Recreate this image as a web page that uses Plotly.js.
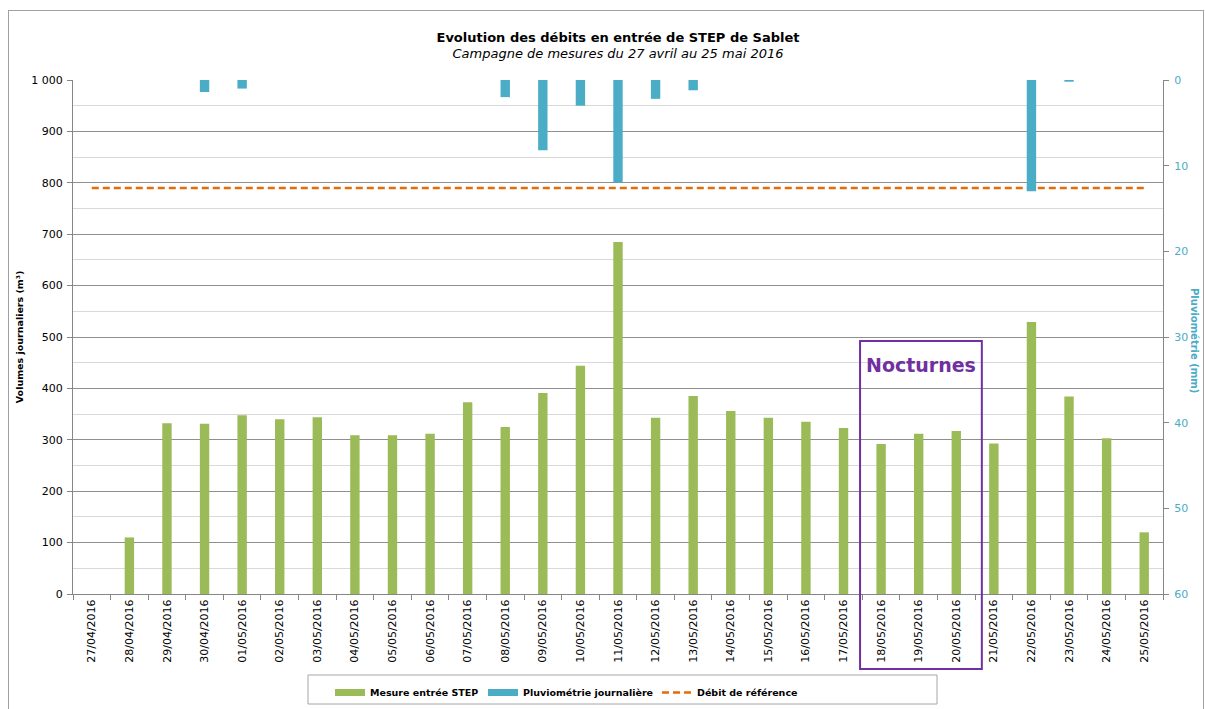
<!DOCTYPE html>
<html>
<head>
<meta charset="utf-8">
<script src="https://cdn.plot.ly/plotly-3.0.1.min.js"></script>
<style>
  html, body { margin:0; padding:0; background:#fff; }
  #chart { width:1205px; height:709px; position:absolute; left:0; top:0; }
  #frame { position:absolute; left:8px; top:10px; width:1194px; height:720px; border:1px solid #a0a0a0; pointer-events:none; }
</style>
</head>
<body>
<div id="chart"></div>
<div id="frame"></div>
<script>
const categories = ["27/04/2016","28/04/2016","29/04/2016","30/04/2016","01/05/2016","02/05/2016","03/05/2016",
  "04/05/2016","05/05/2016","06/05/2016","07/05/2016","08/05/2016","09/05/2016","10/05/2016","11/05/2016",
  "12/05/2016","13/05/2016","14/05/2016","15/05/2016","16/05/2016","17/05/2016","18/05/2016","19/05/2016",
  "20/05/2016","21/05/2016","22/05/2016","23/05/2016","24/05/2016","25/05/2016"];
const volumes = [null,110,332,331,348,340,344,309,309,312,373,325,391,444,685,343,385,356,343,335,323,292,312,317,293,529,384,303,120];
const rain = [0,0,0,1.4,1.0,0,0,0,0,0,0,2.0,8.2,3.0,12.0,2.2,1.2,0,0,0,0,0,0,0,0,13.0,0.2,0,0];
const refFlow = 790;
const nightDays = ["18/05/2016","19/05/2016","20/05/2016"];

const seriesNames = ["Mesure entrée STEP","Pluviométrie journalière","Débit de référence"];
const GREEN = "#9bbb59", BLUE = "#4bacc6", ORANGE = "#e46c0a", PURPLE = "#7030a0";
const FONT = "Verdana, 'DejaVu Sans', sans-serif";

const W = 1205, H = 709, L = 73, R = 1163, T = 80, B = 594;
const px2px = x => (x - L) / (R - L);   // pixel -> paper x
const py2py = y => (B - y) / (B - T);   // pixel -> paper y

const traces = [
  {type:"bar", x:categories, y:volumes, name:seriesNames[0], marker:{color:GREEN}, width:0.25, showlegend:false, yaxis:"y"},
  {type:"bar", x:categories, y:rain, name:seriesNames[1], marker:{color:BLUE}, width:0.25, showlegend:false, yaxis:"y2"},
  {type:"scatter", mode:"lines", x:categories, y:categories.map(() => refFlow), name:seriesNames[2],
   line:{color:ORANGE, width:2.5, dash:"7px,4px"}, showlegend:true, yaxis:"y", legend:"legend3"},
  // legend swatches (Excel-style wide rectangles)
  {type:"scatter", mode:"lines", x:[null], y:[null], name:seriesNames[0], line:{color:GREEN, width:7}, legend:"legend"},
  {type:"scatter", mode:"lines", x:[null], y:[null], name:seriesNames[1], line:{color:BLUE, width:7}, yaxis:"y2", legend:"legend2"},
];

const n0 = categories.indexOf(nightDays[0]);
const n1 = categories.indexOf(nightDays[nightDays.length-1]);
const bx0 = n0 - 0.56, bx1 = n1 + 0.68;

function legendAt(xpx) {
  return {orientation:"h", xref:"container", yref:"container", x:(xpx-5)/W, y:1-678/H, xanchor:"left", yanchor:"top",
          borderwidth:0, bgcolor:"rgba(0,0,0,0)",
          font:{family:FONT, size:9.5, color:"#000", weight:"bold"}, itemwidth:30};
}

const layout = {
  width:W, height:H,
  margin:{l:L, r:W-R, t:T, b:H-B},
  paper_bgcolor:"#ffffff", plot_bgcolor:"#ffffff",
  font:{family:FONT, size:10.5, color:"#000"},
  separators:", ",
  barmode:"overlay",
  showlegend:true,
  title:{text:"<b>Evolution des débits en entrée de STEP de Sablet</b><br><i>Campagne de mesures du 27 avril au 25 mai 2016</i>",
         font:{family:FONT, size:13, color:"#000"}, x:0.5, xref:"paper", y:1-41.5/H, yref:"container", yanchor:"middle"},
  xaxis:{type:"category", tickangle:-90, ticks:"outside", ticklen:5, tickcolor:"#868686",
         tickson:"boundaries", showline:true, linecolor:"#868686", showgrid:false, automargin:false,
         tickfont:{family:FONT, size:11, color:"#000"}, range:[-0.5, categories.length-0.5]},
  yaxis:{range:[0,1000], tickvals:[0,100,200,300,400,500,600,700,800,900,1000], tickformat:",d",
         ticks:"outside", ticklen:5, tickcolor:"#868686", showline:true, linecolor:"#868686",
         showgrid:true, gridcolor:"#8f8f8f", gridwidth:1, zeroline:false, automargin:false,
         ticklabelstandoff:2,
         minor:{dtick:50, showgrid:true, gridcolor:"#d9d9d9", gridwidth:1},
         title:{text:"<b>Volumes journaliers (m³)</b>", font:{family:FONT, size:9.5, color:"#000"}, standoff:5},
         tickfont:{family:FONT, size:11, color:"#000"}},
  yaxis2:{overlaying:"y", side:"right", range:[60,0], dtick:10, ticks:"outside", ticklen:5, tickcolor:"#868686",
          showline:true, linecolor:"#868686", showgrid:false, zeroline:false, automargin:false,
          ticklabelstandoff:3,
          tickfont:{family:FONT, size:11, color:BLUE}},
  legend:legendAt(335),
  legend2:legendAt(488),
  legend3:legendAt(662),
  shapes:[
    {type:"rect", xref:"x", yref:"paper", x0:bx0, x1:bx1, y0:py2py(669), y1:py2py(341),
     line:{color:PURPLE, width:2}, fillcolor:"rgba(0,0,0,0)"},
    {type:"rect", xref:"paper", yref:"paper", x0:px2px(308), x1:px2px(937), y0:py2py(704), y1:py2py(675),
     line:{color:"#a6a6a6", width:1}, fillcolor:"rgba(0,0,0,0)", layer:"below"}
  ],
  annotations:[
    {xref:"x", yref:"paper", x:(bx0+bx1)/2, y:py2py(365), text:"<b>Nocturnes</b>", showarrow:false,
     font:{family:FONT, size:19, color:PURPLE}, xanchor:"center", yanchor:"middle"},
    {xref:"paper", yref:"paper", x:px2px(1195), y:py2py(340), text:"<b>Pluviométrie (mm)</b>", showarrow:false,
     textangle:90, font:{family:FONT, size:10, color:BLUE}, xanchor:"center", yanchor:"middle"}
  ]
};

Plotly.newPlot("chart", traces, layout, {displayModeBar:false, staticPlot:true});
</script>
</body>
</html>
